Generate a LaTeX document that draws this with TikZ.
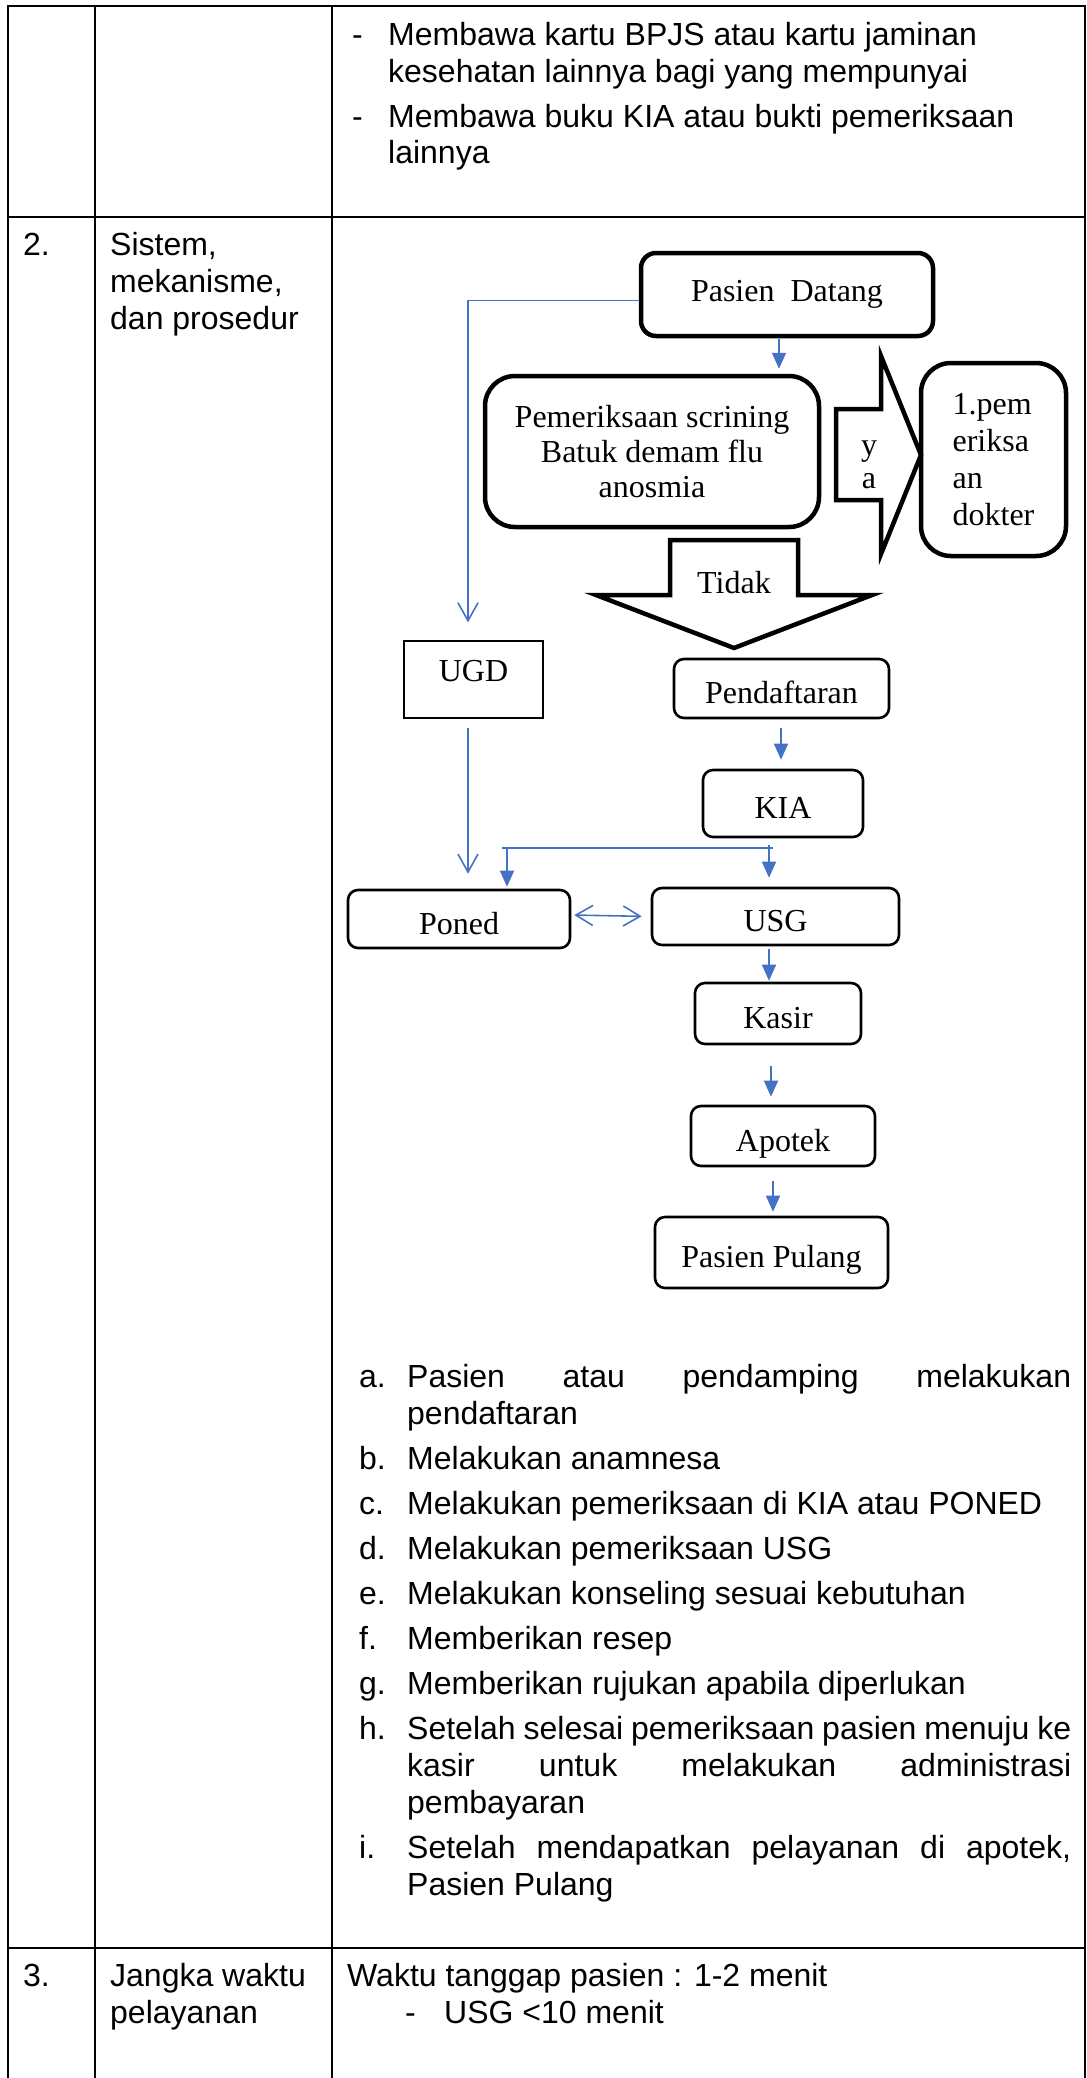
\documentclass[tikz,border=0pt]{standalone}
\usepackage{fontspec}
\setmainfont{Liberation Sans}
\newfontfamily\flowfont{Liberation Serif}
\usepackage{tikz}
\usetikzlibrary{positioning}
\usetikzlibrary{arrows.meta}
\definecolor{flowblue}{RGB}{68,114,196}

\begin{document}
\begin{tikzpicture}[x=1pt,y=-1pt,
    tbl/.style={line width=2pt},
    txt/.style={anchor=base west,inner sep=0pt,font=\fontsize{32}{37}\selectfont},
    bigbox/.style={draw,line width=4.5pt,rounded corners=15pt,align=center,inner sep=0pt,
      font=\flowfont\fontsize{32}{35}\selectfont},
    procbox/.style={draw,line width=2.6pt,rounded corners=10pt,align=center,inner sep=0pt,
      text height=30pt,text depth=0pt,font=\flowfont\fontsize{32}{35}\selectfont},
    flow/.style={flowblue,line width=1.6pt,-{Triangle[length=16pt,width=14pt]}},
    openflow/.style={flowblue,line width=1.6pt,-{Straight Barb[length=18pt,width=20pt]}},
    twoway/.style={flowblue,line width=1.6pt,
      {Straight Barb[length=17pt,width=20pt]}-{Straight Barb[length=17pt,width=20pt]}},
    blockarrow/.style={draw,line width=4.5pt,line join=miter}]
        \useasboundingbox (0,0) rectangle (1087,2078);

        % table
        \draw[tbl] (8,2078) -- (8,6) -- (1085,6) -- (1085,2078);
        \draw[tbl] (95,6) -- (95,2078);
        \draw[tbl] (332,6) -- (332,2078);
        \draw[tbl] (8,217) -- (1085,217);
        \draw[tbl] (8,1948) -- (1085,1948);

        \node[txt] (d1) at (352,45) {-};
        \node[txt] (bawa1a) at (388,45) {Membawa kartu BPJS atau kartu jaminan};
        \node[txt] (bawa1b) at (388,82) {kesehatan lainnya bagi yang mempunyai};
        \node[txt] (d2) at (352,127) {-};
        \node[txt] (bawa2a) at (388,127) {Membawa buku KIA atau bukti pemeriksaan};
        \node[txt] (bawa2b) at (388,163) {lainnya};

        \node[txt] (no2) at (23,255) {2.};
        \node[txt] (nama2a) at (110,255) {Sistem,};
        \node[txt] (nama2b) at (110,292) {mekanisme,};
        \node[txt] (nama2c) at (110,329) {dan prosedur};

        % flowchart
        \node[bigbox,minimum width=292pt,minimum height=83pt] (datang) at (787,294.5) {Pasien\ \ Datang};
        \node[bigbox,rounded corners=30pt,minimum width=334pt,minimum height=151pt] (scr) at (652,451.5)
          {Pemeriksaan scrining\\Batuk demam flu\\anosmia};
        \node[bigbox,rounded corners=30pt,minimum width=145pt,minimum height=193pt,align=left,
          font=\flowfont\fontsize{32}{37}\selectfont] (dokter) at (993.5,459.5) {1.pem\\eriksa\\an\\dokter};
        \node[draw,line width=1.3pt,minimum width=139pt,minimum height=77pt,inner sep=0pt,text depth=17pt,
          font=\flowfont\fontsize{32}{35}\selectfont] (ugd) at (473.5,679.5) {UGD};
        \node[procbox,minimum width=215pt,minimum height=59pt] (daftar) at (781.5,688.5) {Pendaftaran};
        \node[procbox,minimum width=160pt,minimum height=67pt] (kia) at (783,803.5) {KIA};
        \node[procbox,minimum width=222pt,minimum height=58pt] (poned) at (459,919) {Poned};
        \node[procbox,minimum width=247pt,minimum height=57pt] (usg) at (775.5,916.5) {USG};
        \node[procbox,minimum width=166pt,minimum height=61pt] (kasir) at (778,1013.5) {Kasir};
        \node[procbox,minimum width=184pt,minimum height=60pt] (apotek) at (783,1136) {Apotek};
        \node[procbox,minimum width=233pt,minimum height=71pt] (pulang) at (771.5,1252.5) {Pasien Pulang};

        % block arrows
        \draw[blockarrow] (836,409) -- (881,409) -- (881,356) -- (921,455) -- (881,554) -- (881,500)
          -- (836,500) -- cycle;
        \node[align=center,inner sep=0pt,font=\flowfont\fontsize{32}{33}\selectfont] (ya) at (869,465) {y\\a};
        \draw[blockarrow] (670,540) -- (798,540) -- (798,595) -- (872,595) -- (734,648) -- (596,595)
          -- (670,595) -- cycle;
        \node[inner sep=0pt,font=\flowfont\fontsize{32}{35}\selectfont] (tidak) at (734,583) {Tidak};

        \draw[flow,shorten <=1pt,shorten >=5pt] ([xshift=-8pt]datang.south) -- ([xshift=-8pt]datang.south |- scr.north);
        \draw[openflow,shorten >=18pt] ([yshift=-6pt]datang.west) -| ([xshift=-5.5pt]ugd.north);
        \draw[openflow,shorten <=9pt,shorten >=15pt] ([xshift=-5.5pt]ugd.south) -- ([xshift=-5.5pt]ugd.south |- poned.north);
        \draw[flow,shorten <=9pt,shorten >=9pt] ([xshift=-0.5pt]daftar.south) -- ([xshift=-0.5pt]daftar.south |- kia.north);

        \coordinate (forkL) at (502,848);
        \coordinate (forkR) at (773,848);
        \coordinate (forkU) at (769,845);
        \coordinate (forkP) at (507,848);
        \draw[flowblue,line width=1.6pt] (forkL) -- (forkR);
        \draw[flow,shorten >=9pt] (forkU) -- (forkU |- usg.north);
        \draw[flow,shorten >=2pt] (forkP) -- (forkP |- poned.north);
        \draw[twoway,shorten <=3pt,shorten >=9pt] ([yshift=4pt]poned.east) -- (usg.west);

        \draw[flow,shorten <=3pt,shorten >=1pt] ([xshift=-6.5pt]usg.south) -- ([xshift=-6.5pt]usg.south |- kasir.north);
        \draw[flow,shorten <=21pt,shorten >=8pt] ([xshift=-7pt]kasir.south) -- ([xshift=-7pt]kasir.south |- apotek.north);
        \draw[flow,shorten <=14pt,shorten >=4pt] ([xshift=-10pt]apotek.south) -- ([xshift=-10pt]apotek.south |- pulang.north);

        % steps
        \node[txt] (la) at (359,1387) {a.};
        \node[txt] (la1) at (407,1387) {\makebox[664pt][s]{Pasien atau pendamping melakukan}};
        \node[txt] (la2) at (407,1424) {pendaftaran};
        \node[txt] (lb) at (359,1469) {b.};
        \node[txt] (lb1) at (407,1469) {Melakukan anamnesa};
        \node[txt] (lc) at (359,1514) {c.};
        \node[txt] (lc1) at (407,1514) {Melakukan pemeriksaan di KIA atau PONED};
        \node[txt] (ld) at (359,1559) {d.};
        \node[txt] (ld1) at (407,1559) {Melakukan pemeriksaan USG};
        \node[txt] (le) at (359,1604) {e.};
        \node[txt] (le1) at (407,1604) {Melakukan konseling sesuai kebutuhan};
        \node[txt] (lf) at (359,1649) {f.};
        \node[txt] (lf1) at (407,1649) {Memberikan resep};
        \node[txt] (lg) at (359,1694) {g.};
        \node[txt] (lg1) at (407,1694) {Memberikan rujukan apabila diperlukan};
        \node[txt] (lh) at (359,1739) {h.};
        \node[txt] (lh1) at (407,1739) {\makebox[664pt][s]{Setelah selesai pemeriksaan pasien menuju ke}};
        \node[txt] (lh2) at (407,1776) {\makebox[664pt][s]{kasir untuk melakukan administrasi}};
        \node[txt] (lh3) at (407,1813) {pembayaran};
        \node[txt] (li) at (359,1858) {i.};
        \node[txt] (li1) at (407,1858) {\makebox[664pt][s]{Setelah mendapatkan pelayanan di apotek,}};
        \node[txt] (li2) at (407,1895) {Pasien Pulang};

        \node[txt] (no3) at (23,1986) {3.};
        \node[txt] (nama3a) at (110,1986) {Jangka waktu};
        \node[txt] (nama3b) at (110,2023) {pelayanan};
        \node[txt] (waktu) at (347,1986) {Waktu tanggap pasien : 1-2 menit};
        \node[txt] (d3) at (405,2023) {-};
        \node[txt] (usgwaktu) at (444,2023) {USG <10 menit};
      \end{tikzpicture}
\end{document}
